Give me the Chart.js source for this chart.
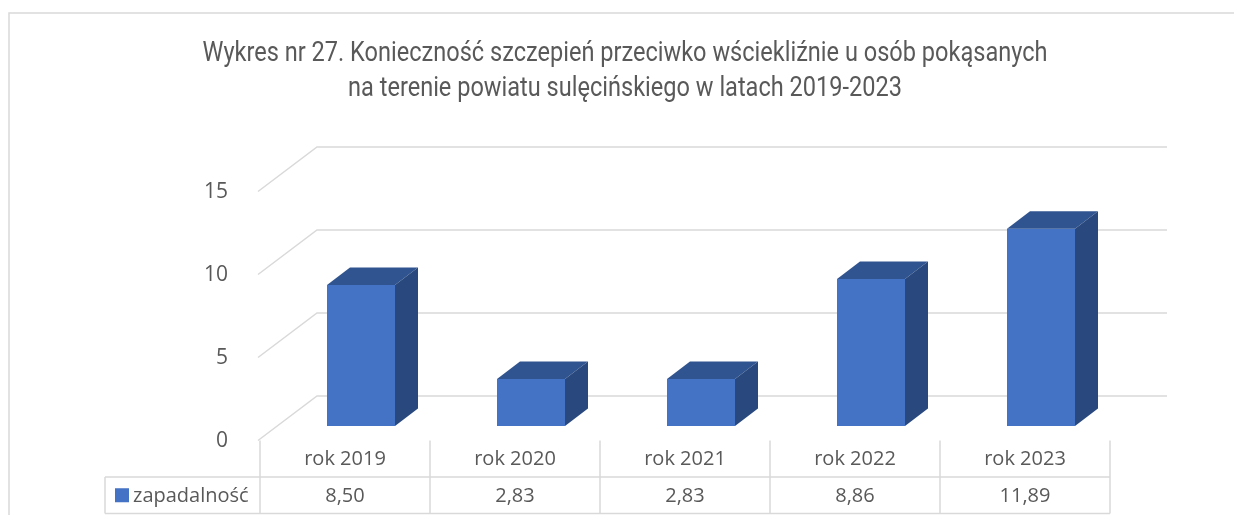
<!DOCTYPE html>
<html>
<head>
<meta charset="utf-8">
<script src="https://cdn.jsdelivr.net/npm/chart.js@4.4.1/dist/chart.umd.min.js"></script>
<style>
    html, body { margin: 0; padding: 0; background: #fff; }
    canvas { display: block; }
</style>
</head>
<body>
<canvas id="rabies_chart" width="1234" height="515"></canvas>
<script>
'use strict';

const titleLines = [
    'Wykres nr 27. Konieczność szczepień przeciwko wściekliźnie u osób pokąsanych',
    'na terenie powiatu sulęcińskiego w latach 2019-2023'
];
const years = ['rok 2019', 'rok 2020', 'rok 2021', 'rok 2022', 'rok 2023'];
const seriesName = 'zapadalność';
const zapadalnosc = [8.50, 2.83, 2.83, 8.86, 11.89];
const yMax = 15;
const yStep = 5;

const textColor = '#595959';
const gridColor = '#d9d9d9';
const fontFamily = 'Open Sans';

// fake 3d offsets (px)
const wallBack = {x: 41, y: -30};
const wallFront = {x: -18, y: 14.5};
const barDepth = {x: 23, y: -17.5};
const tableShift = -16;
const rowH = 36.5;

const framePlugin = {
    id: 'frame',
    beforeDraw(chart) {
        const ctx = chart.ctx;
        ctx.save();
        ctx.strokeStyle = gridColor;
        ctx.lineWidth = 1.5;
        ctx.beginPath();
        ctx.moveTo(9, chart.height);
        ctx.lineTo(9, 13);
        ctx.lineTo(chart.width, 13);
        ctx.stroke();

        // title, squeezed to look condensed
        ctx.fillStyle = textColor;
        ctx.font = '400 28px Roboto';
        ctx.textAlign = 'center';
        ctx.textBaseline = 'alphabetic';
        const squeeze = 845 / ctx.measureText(titleLines[0]).width;
        titleLines.forEach((line, i) => {
            ctx.save();
            ctx.translate(625, 61 + i * 35);
            ctx.scale(squeeze, 1);
            ctx.fillText(line, 0, 0);
            ctx.restore();
        });
        ctx.restore();
    },
    beforeDatasetsDraw(chart) {
        const ctx = chart.ctx;
        const area = chart.chartArea;
        const yScale = chart.scales.y;
        ctx.save();
        ctx.strokeStyle = gridColor;
        ctx.lineWidth = 1.5;
        ctx.beginPath();
        for (const tick of yScale.ticks) {
            const py = yScale.getPixelForValue(tick.value);
            ctx.moveTo(area.left + wallFront.x, py + wallFront.y);
            ctx.lineTo(area.left + wallBack.x, py + wallBack.y);
            ctx.lineTo(area.right + wallBack.x, py + wallBack.y);
        }
        ctx.stroke();
        ctx.restore();
    },
    afterDatasetsDraw(chart) {
        const ctx = chart.ctx;
        ctx.save();
        for (const bar of chart.getDatasetMeta(0).data) {
            const {x, y, base, width} = bar.getProps(['x', 'y', 'base', 'width'], true);
            const l = x - width / 2;
            const r = x + width / 2;
            // top
            ctx.fillStyle = '#30548f';
            ctx.beginPath();
            ctx.moveTo(l, y);
            ctx.lineTo(l + barDepth.x, y + barDepth.y);
            ctx.lineTo(r + barDepth.x, y + barDepth.y);
            ctx.lineTo(r, y);
            ctx.closePath();
            ctx.fill();
            // side
            ctx.fillStyle = '#29487e';
            ctx.beginPath();
            ctx.moveTo(r, y);
            ctx.lineTo(r + barDepth.x, y + barDepth.y);
            ctx.lineTo(r + barDepth.x, base + barDepth.y);
            ctx.lineTo(r, base);
            ctx.closePath();
            ctx.fill();
        }
        ctx.restore();
    },
    afterDraw(chart) {
        // data table under the plot
        const ctx = chart.ctx;
        const xScale = chart.scales.x;
        const yScale = chart.scales.y;
        const half = (xScale.getPixelForValue(1) - xScale.getPixelForValue(0)) / 2;
        const top = yScale.getPixelForValue(0) + wallFront.y;
        const mid = top + rowH;
        const bottom = mid + rowH;
        const firstEdge = xScale.getPixelForValue(0) - half + tableShift;
        const lastEdge = xScale.getPixelForValue(years.length - 1) + half + tableShift;
        const legendLeft = firstEdge - 155;

        ctx.save();
        ctx.strokeStyle = gridColor;
        ctx.lineWidth = 1.5;
        ctx.beginPath();
        for (let k = 0; k <= years.length; k++) {
            const ex = firstEdge + k * 2 * half;
            ctx.moveTo(ex, top);
            ctx.lineTo(ex, bottom);
        }
        ctx.moveTo(legendLeft, mid);
        ctx.lineTo(lastEdge, mid);
        ctx.moveTo(legendLeft, bottom);
        ctx.lineTo(lastEdge, bottom);
        ctx.moveTo(legendLeft, mid);
        ctx.lineTo(legendLeft, bottom);
        ctx.stroke();

        ctx.fillStyle = textColor;
        ctx.font = '20px "' + fontFamily + '"';
        ctx.textAlign = 'center';
        ctx.textBaseline = 'middle';
        years.forEach((year, k) => {
            const cx = xScale.getPixelForValue(k) + tableShift;
            ctx.fillText(year, cx, top + rowH / 2 + 1);
            ctx.fillText(zapadalnosc[k].toFixed(2).replace('.', ','), cx, mid + rowH / 2 + 1);
        });

        ctx.fillStyle = '#4472c4';
        ctx.fillRect(legendLeft + 10, mid + rowH / 2 - 7, 14, 14);
        ctx.fillStyle = textColor;
        ctx.textAlign = 'left';
        ctx.fillText(seriesName, legendLeft + 28, mid + rowH / 2 + 1);
        ctx.restore();
    }
};

let rabiesChart = new Chart(
    document.querySelector('#rabies_chart'), {
        type: 'bar',
        data: {
            labels: years,
            datasets: [{
                label: seriesName,
                data: zapadalnosc,
                backgroundColor: '#4472c4',
                borderWidth: 0,
                barPercentage: 0.4,
                categoryPercentage: 1
            }]
        },
        options: {
            responsive: false,
            animation: false,
            layout: {
                padding: {top: 177, left: 176, right: 108, bottom: 89}
            },
            plugins: {
                legend: {display: false},
                title: {display: false},
                tooltip: {enabled: false}
            },
            scales: {
                x: {display: false},
                y: {
                    min: 0,
                    max: yMax,
                    ticks: {
                        stepSize: yStep,
                        padding: 40,
                        labelOffset: 15,
                        color: textColor,
                        font: {family: fontFamily, size: 21}
                    },
                    grid: {display: false},
                    border: {display: false},
                    afterFit(scale) {
                        scale.width = 100;
                    }
                }
            }
        },
        plugins: [framePlugin]
    });
</script>
</body>
</html>
